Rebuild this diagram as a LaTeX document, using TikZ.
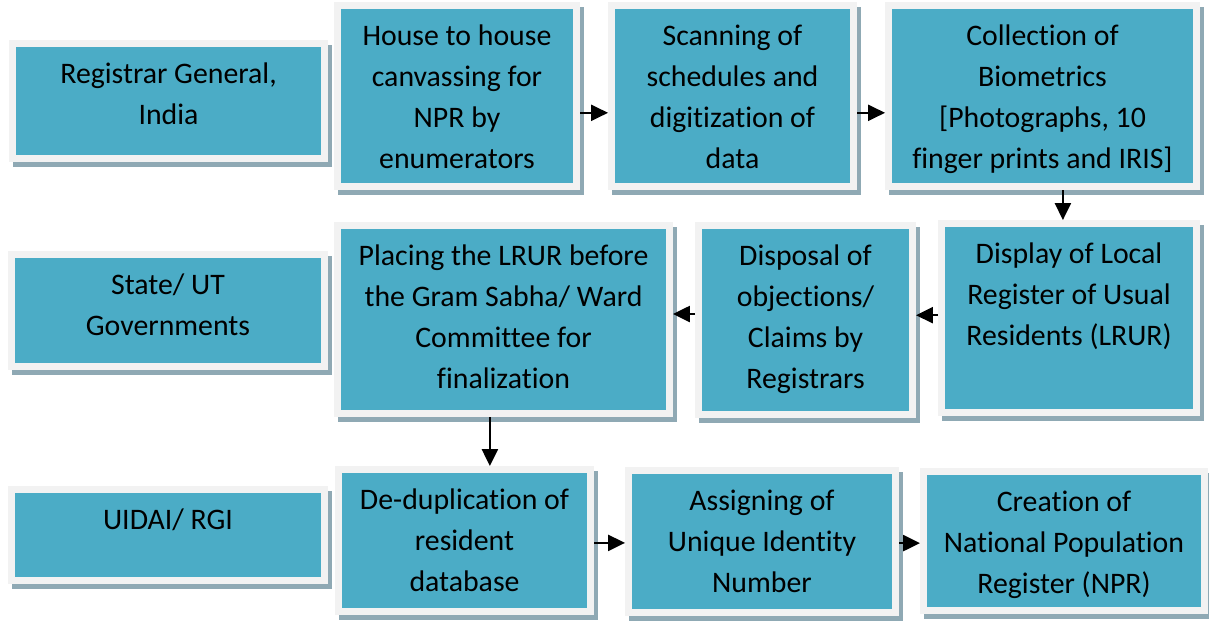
\documentclass[tikz,border=0pt]{standalone}
\usepackage{fontspec}
\setmainfont{Carlito}[Ligatures=NoCommon]
\usetikzlibrary{arrows.meta}
\definecolor{boxteal}{HTML}{4BACC6}
\definecolor{framegray}{HTML}{F2F2F2}
\definecolor{shadowgray}{HTML}{8FA9B4}
\newlength\pxu
\setlength\pxu{0.025cm}
% box text: width, height (in px), lines
\newcommand{\boxtxt}[3]{\parbox[c][#2\pxu][t]{#1\pxu}{\centering\rule{0pt}{1.0cm}#3}}

\begin{document}
\begin{tikzpicture}[x=0.025cm, y=-0.025cm,
  stagebox/.style={draw=framegray, line width=0.175cm, fill=boxteal, inner sep=0pt,
    font=\fontsize{21.2}{29.2}\selectfont,
    preaction={draw=shadowgray, fill=shadowgray, transform canvas={shift={(0.1cm,-0.12cm)}}}},
  flow/.style={line width=0.05cm, -{Triangle[length=0.42cm, width=0.4cm]}}]
\useasboundingbox (0,0) rectangle (1209,620);

% row 1
\node [stagebox] (reg) at (168.5,101) {\boxtxt{312}{115}{Registrar General,\\India}};
\node [stagebox] (house) at (457,96) {\boxtxt{239}{181}{House to house\\canvassing for\\NPR by\\enumerators}};
\node [stagebox] (scan) at (732.5,96) {\boxtxt{242}{181}{Scanning of\\schedules and\\digitization of\\data}};
\node [stagebox] (coll) at (1042.5,96) {\boxtxt{308}{181}{Collection of\\Biometrics\\{[}Photographs, 10\\finger prints and IRIS{]}}};

% row 2
\node [stagebox] (state) at (168,310.5) {\boxtxt{313}{112}{State/ UT\\Governments}};
\node [stagebox] (plac) at (503.5,319.5) {\boxtxt{332}{188}{Placing the LRUR before\\the Gram Sabha/ Ward\\Committee for\\finalization}};
\node [stagebox] (disp) at (805.5,320) {\boxtxt{214}{189}{Disposal of\\objections/\\Claims by\\Registrars}};
\node [stagebox] (lrur) at (1069,318) {\boxtxt{255}{189}{Display of Local\\Register of Usual\\Residents (LRUR)}};

% row 3
\node [stagebox] (uid) at (168,535) {\boxtxt{313}{91}{UIDAI/ RGI}};
\node [stagebox] (dedup) at (464.5,540.5) {\boxtxt{252}{142}{De-duplication of\\resident\\database}};
\node [stagebox] (assign) at (762,541.5) {\boxtxt{267}{142}{Assigning of\\Unique Identity\\Number}};
\node [stagebox] (npr) at (1064,541) {\boxtxt{281}{139}{Creation of\\National Population\\Register (NPR)}};

% arrows
\draw [flow] ([yshift=-0.42cm]house.east) -- ([yshift=-0.42cm]house.east -| scan.west);
\draw [flow] ([yshift=-0.42cm]scan.east) -- ([yshift=-0.42cm]scan.east -| coll.west);
\draw [flow] ([xshift=0.51cm]coll.south) -- ([xshift=0.51cm]coll.south |- lrur.north);
\draw [flow] ([yshift=0.07cm]lrur.west) -- ([yshift=0.07cm]lrur.west -| disp.east);
\draw [flow] ([yshift=0.15cm]disp.west) -- ([yshift=0.15cm]disp.west -| plac.east);
\draw [flow] ([xshift=-0.34cm]plac.south) -- ([xshift=-0.34cm]plac.south |- dedup.north);
\draw [flow] ([yshift=-0.06cm]dedup.east) -- ([yshift=-0.06cm]dedup.east -| assign.west);
\draw [flow] ([yshift=-0.04cm]assign.east) -- ([yshift=-0.04cm]assign.east -| npr.west);
\end{tikzpicture}
\end{document}
